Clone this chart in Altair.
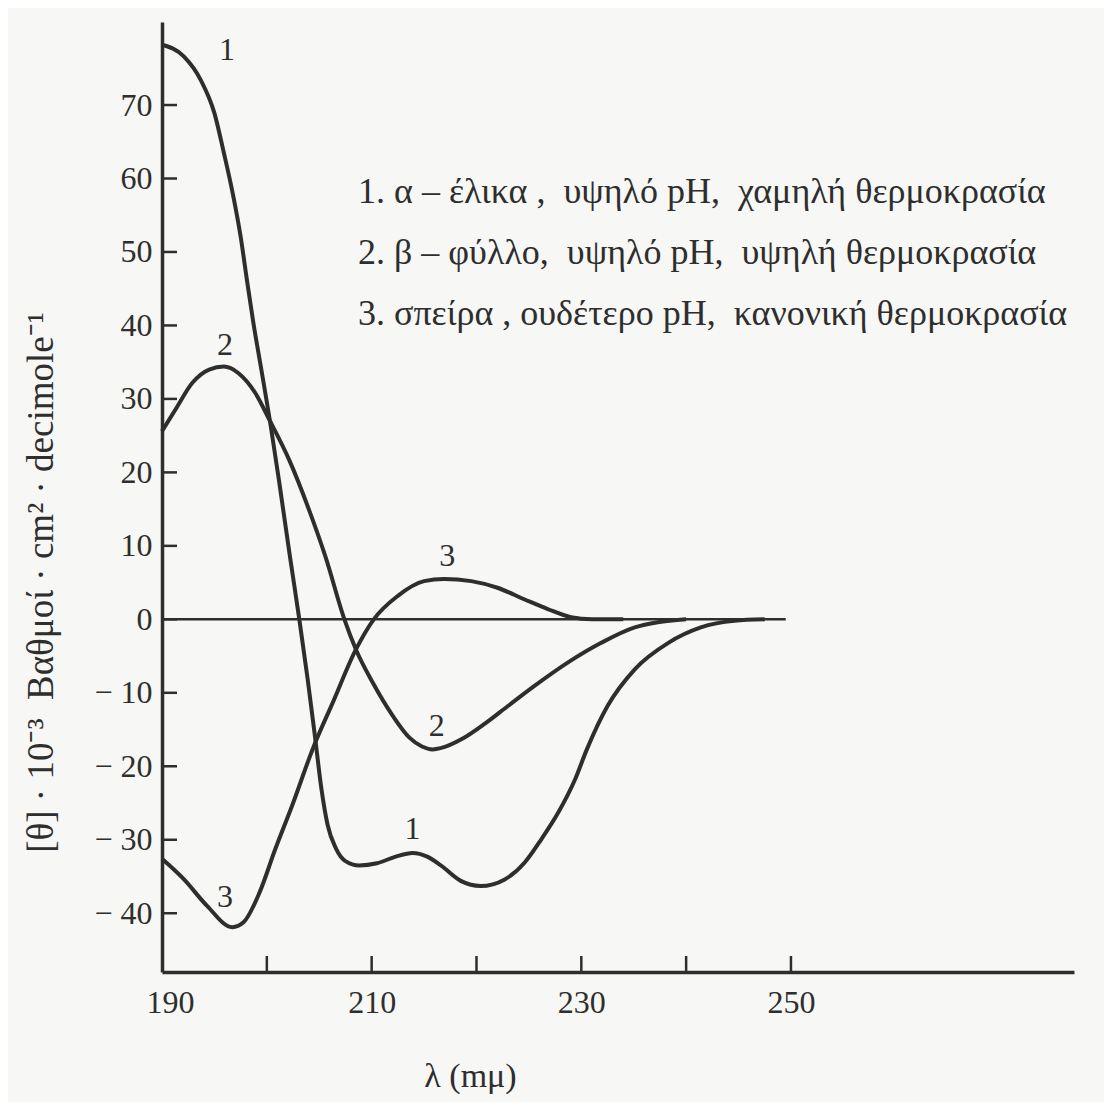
import altair as alt
import pandas as pd

# ---- data ----
wl_alpha = [190, 192.1, 193.7, 195.0, 195.9, 196.8, 197.5, 198.1, 198.7, 199.5, 200.3, 201.2,
            202.2, 203.1, 203.9, 204.6, 205.2, 205.8, 206.6, 207.5, 208.8, 210.5, 212.3, 213.9,
            215.3, 216.6, 218.5, 220.4, 222.7, 224.6, 226.2, 227.8, 229.4, 230.5, 232.5, 235.1,
            238.3, 241.4, 244.6, 247.5]
th_alpha = [78.2, 76.6, 73.4, 68.9, 63.5, 57.6, 52.1, 46.2, 40.5, 33.8, 27.0, 18.5,
            8.6, 0, -8.2, -16.0, -23.0, -28.0, -31.2, -32.9, -33.5, -33.2, -32.3, -31.8,
            -32.3, -33.5, -35.6, -36.3, -35.4, -33.1, -29.9, -26.3, -21.8, -17.8, -11.8, -6.8,
            -3.2, -1.1, -0.2, 0]

wl_beta = [190, 191.3, 192.9, 194.5, 195.9, 197.3, 198.9, 200.3, 202.1, 204.0, 205.6, 207.4,
           208.5, 210.1, 212.0, 213.6, 214.8, 215.8, 216.9, 218.6, 220.8, 223.0, 225.5, 228.7,
           231.9, 235.1, 237.3, 240.0]
th_beta = [25.6, 28.6, 32.2, 34.0, 34.4, 33.5, 30.8, 27.0, 21.8, 15.0, 8.5, 0,
           -4.1, -8.6, -13.1, -16.1, -17.3, -17.7, -17.4, -16.3, -14.2, -11.8, -9.1, -5.9,
           -3.2, -1.1, -0.4, 0]

wl_coil = [190, 192.1, 194.3, 196.7, 197.8, 199.3, 200.8, 202.4, 204.5, 206.3, 208.5, 210.2,
           212.5, 215.0, 216.9, 219.5, 222.0, 224.6, 226.8, 229.0, 231.0, 234.0]
th_coil = [-32.6, -35.4, -39.0, -41.9, -41.2, -37.2, -31.3, -25.4, -17.2, -11.3, -4.1, 0,
           3.2, 5.2, 5.5, 5.2, 4.3, 2.7, 1.4, 0.3, 0, 0]

curve_names = ["1", "2", "3"]

label_text = ["1", "2", "3", "1", "2", "3"]
label_wl = [196.2, 196.0, 196.0, 213.9, 216.2, 217.2]
label_th = [77.5, 37.4, -37.8, -28.6, -14.5, 8.6]

legend_lines = [
    "1. α – έλικα ,\u00a0 υψηλό pH,\u00a0 χαμηλή θερμοκρασία",
    "2. β – φύλλο,\u00a0 υψηλό pH,\u00a0 υψηλή θερμοκρασία",
    "3. σπείρα , ουδέτερο pH,\u00a0 κανονική θερμοκρασία",
]
legend_wl = [208.7, 208.7, 208.7]
legend_th = [58.2, 49.8, 41.5]

x_tick_values = [200, 210, 220, 230, 240, 250]
x_label_values = [190, 210, 230, 250]
y_tick_values = [-40, -30, -20, -10, 0, 10, 20, 30, 40, 50, 60, 70]
zero_line = {"wl": [190], "wl2": [249.5], "th": [0]}

x_domain = [190, 277]
y_domain = [-48, 81.3]

# ---- tables ----
rows = []
for name, wls, ths in zip(curve_names, [wl_alpha, wl_beta, wl_coil], [th_alpha, th_beta, th_coil]):
    for w, t in zip(wls, ths):
        rows.append({"curve": name, "wl": w, "th": t})
curves = pd.DataFrame(rows)
labels = pd.DataFrame({"t": label_text, "wl": label_wl, "th": label_th})
legend = pd.DataFrame({"t": legend_lines, "wl": legend_wl, "th": legend_th})
xt = pd.DataFrame({"wl": x_tick_values})
yt = pd.DataFrame({"th": y_tick_values})
zl = pd.DataFrame(zero_line)

INK = "#2e2e2e"
SERIF = "Liberation Serif"
W, H = 912, 950

xscale = alt.Scale(domain=x_domain, nice=False, zero=False)
yscale = alt.Scale(domain=y_domain, nice=False, zero=False)

x_axis = alt.Axis(values=x_label_values, ticks=False, grid=False, domainWidth=3.5, domainColor=INK,
                  labelFont=SERIF, labelFontSize=32, labelColor=INK, labelPadding=15,
                  labelFlush=True, labelFlushOffset=16,
                  title="λ (mμ)", titleFont=SERIF, titleFontSize=34, titleFontWeight="normal",
                  titleColor=INK, titleX=308, titleY=104, titleBaseline="middle", titleAlign="center")
y_axis = alt.Axis(values=y_tick_values, ticks=False, grid=False, domainWidth=3.5, domainColor=INK,
                  labelFont=SERIF, labelFontSize=32, labelColor=INK, labelPadding=10,
                  labelExpr="datum.value < 0 ? '\u2212\u00a0' + (-datum.value) : '' + datum.value",
                  title="[θ] · 10⁻³\u00a0 Βαθμοί · cm² · decimole⁻¹", titleFont=SERIF,
                  titleFontSize=37, titleFontWeight="normal", titleColor=INK,
                  titleAngle=270, titleBaseline="alphabetic", titleAlign="center",
                  titleX=-110, titleY=560)

lines = alt.Chart(curves).mark_line(color=INK, strokeWidth=4, interpolate="monotone").encode(
    x=alt.X("wl:Q", scale=xscale, axis=x_axis),
    y=alt.Y("th:Q", scale=yscale, axis=y_axis),
    detail="curve:N",
)

zero = alt.Chart(zl).mark_rule(color=INK, strokeWidth=2.5).encode(
    x=alt.X("wl:Q", scale=xscale), x2="wl2:Q", y=alt.Y("th:Q", scale=yscale)
)

xticks = alt.Chart(xt).mark_rule(color=INK, strokeWidth=2.5).encode(
    x=alt.X("wl:Q", scale=xscale), y=alt.value(H), y2=alt.value(H - 16)
)
yticks = alt.Chart(yt).mark_rule(color=INK, strokeWidth=2.5).encode(
    y=alt.Y("th:Q", scale=yscale), x=alt.value(0), x2=alt.value(15)
)

curve_labels = alt.Chart(labels).mark_text(font=SERIF, fontSize=32, color=INK,
                                           align="center", baseline="middle").encode(
    x=alt.X("wl:Q", scale=xscale), y=alt.Y("th:Q", scale=yscale), text="t:N"
)

legend_text = alt.Chart(legend).mark_text(font=SERIF, fontSize=36, color=INK,
                                          align="left", baseline="middle").encode(
    x=alt.X("wl:Q", scale=xscale), y=alt.Y("th:Q", scale=yscale), text="t:N"
)

chart = alt.layer(lines, zero, xticks, yticks, curve_labels, legend_text).properties(
    width=W, height=H,
    autosize=alt.AutoSizeParams(type="none"),
    padding={"left": 154, "top": 14, "right": 30, "bottom": 130},
    background="#f7f7f5",
).configure_view(stroke=None)

chart.save("out.html", embed_options={"renderer": "svg", "actions": False})
